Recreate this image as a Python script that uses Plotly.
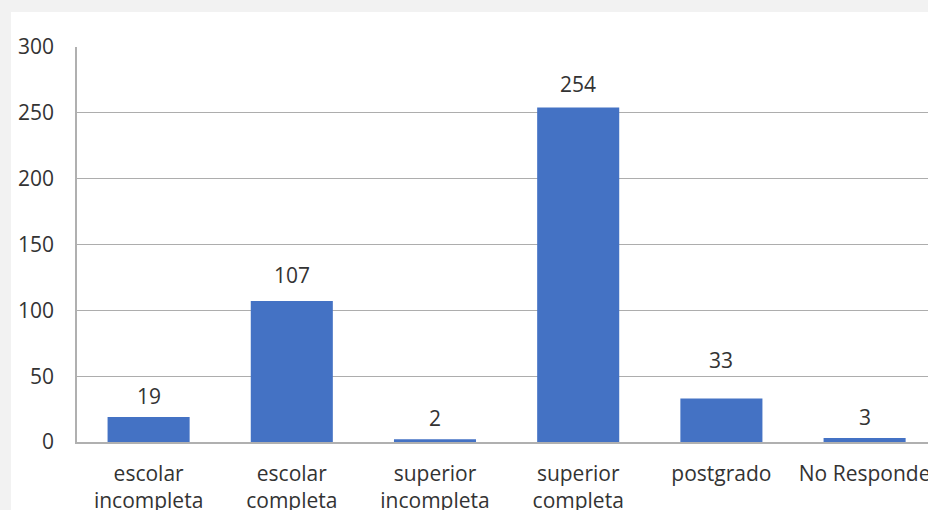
import plotly.graph_objects as go

categories = ["escolar<br>incompleta", "escolar<br>completa", "superior<br>incompleta",
              "superior<br>completa", "postgrado", "No Responde"]
values = [19, 107, 2, 254, 33, 3]
y_ticks = [0, 50, 100, 150, 200, 250, 300]

# pixel nudges of the data labels (style only)
label_lift = [5, 10, 5, 8, 23, 5]

FONT = "Open Sans"
TXT = "#333333"
SIZE = 21

fig = go.Figure()
fig.add_trace(go.Bar(x=categories, y=values, marker=dict(color="#4472C4", line=dict(width=0)),
                     hoverinfo="x+y"))

for c, v, s in zip(categories, values, label_lift):
    fig.add_annotation(x=c, y=v, text=str(v), showarrow=False, yanchor="bottom",
                       yshift=s, font=dict(family=FONT, size=SIZE, color=TXT))

L, T, W, H = 77, 47, 928, 510
pw = W - L
ph = 395
fig.add_shape(type="rect", xref="paper", yref="paper", layer="below",
              x0=(11 - L) / pw, x1=1.2, y0=-0.5, y1=(T + ph - 12) / ph,
              fillcolor="white", line=dict(width=0))

fig.update_layout(
    width=W, height=H,
    margin=dict(l=L, r=0, t=T, b=H - T - ph, autoexpand=False),
    paper_bgcolor="#f2f2f2", plot_bgcolor="white",
    bargap=0.427, showlegend=False,
    font=dict(family=FONT, size=SIZE, color=TXT),
    xaxis=dict(range=[-0.5, -0.5 + pw / 143.2], showgrid=False, showline=True,
               linecolor="#b0b0b0", linewidth=1.5, ticks="", ticklabelstandoff=12,
               automargin=False,
               tickfont=dict(family=FONT, size=SIZE, color=TXT), fixedrange=True),
    yaxis=dict(range=[0, 300], tickvals=y_ticks, showgrid=True, gridcolor="#adadad",
               gridwidth=1, showline=True, linecolor="#b0b0b0", linewidth=1.5, ticks="",
               ticklabelstandoff=17, zeroline=False, automargin=False,
               tickfont=dict(family=FONT, size=SIZE, color=TXT), fixedrange=True),
)

fig.write_html("out.html", config={"displayModeBar": False},
               post_script="document.body.style.margin='0';document.body.style.overflow='hidden';")
